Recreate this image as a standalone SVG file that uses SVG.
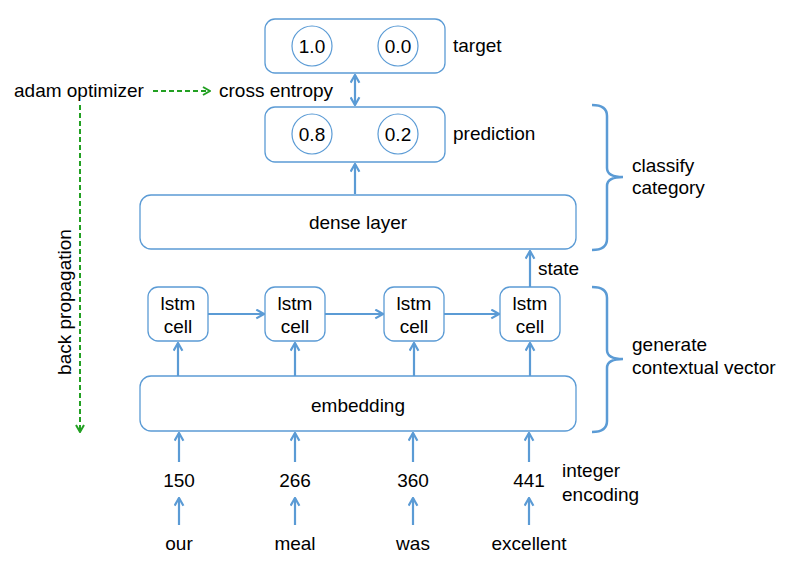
<svg xmlns="http://www.w3.org/2000/svg" width="791" height="566" viewBox="0 0 791 566">
<defs>
<marker id="ah" viewBox="0 0 10 10" refX="9" refY="5" markerWidth="11" markerHeight="11" markerUnits="userSpaceOnUse" orient="auto-start-reverse">
<polyline points="2,1 9,5 2,9" fill="none" stroke="#5B9BD5" stroke-width="2" stroke-linejoin="miter"/>
</marker>
<marker id="gh" viewBox="0 0 10 10" refX="9" refY="5" markerWidth="10" markerHeight="10" markerUnits="userSpaceOnUse" orient="auto">
<polyline points="2,1 9,5 2,9" fill="none" stroke="#22A022" stroke-width="2"/>
</marker>
<style>
.box{fill:#fff;stroke:#5B9BD5;stroke-width:1.3}
.circ{fill:#fff;stroke:#5B9BD5;stroke-width:1.2}
.t{font-family:"Liberation Sans",Arial,sans-serif;font-size:19px;fill:#000}
.m{text-anchor:middle}
.c{stroke:#5B9BD5;stroke-width:2.2;fill:none}
.g{stroke:#22A022;stroke-width:2;fill:none;stroke-dasharray:5,3}
.br{stroke:#5B9BD5;stroke-width:2.5;fill:none}
</style>
</defs>
<rect width="791" height="566" fill="#fff"/>

<g id="target">
<rect class="box" x="265" y="19" width="180" height="54" rx="10"/>
<circle class="circ" cx="312" cy="46" r="20"/>
<circle class="circ" cx="398" cy="46" r="20"/>
<text class="t m" x="312" y="53" font-size="20">1.0</text>
<text class="t m" x="398" y="53" font-size="20">0.0</text>
</g>
<text class="t" x="453" y="52">target</text>

<g id="prediction">
<rect class="box" x="265" y="107" width="180" height="55" rx="10"/>
<circle class="circ" cx="312" cy="134" r="20"/>
<circle class="circ" cx="398" cy="134" r="20"/>
<text class="t m" x="312" y="141" font-size="20">0.8</text>
<text class="t m" x="398" y="141" font-size="20">0.2</text>
</g>
<text class="t" x="453" y="140">prediction</text>

<g id="dense">
<rect class="box" x="140" y="195" width="436" height="54" rx="11"/>
<text class="t m" x="358" y="229">dense layer</text>
</g>

<g id="lstm1">
<rect class="box" x="148" y="287" width="60" height="54" rx="10"/>
<text class="t m" x="178" y="310">lstm</text>
<text class="t m" x="178" y="333">cell</text>
</g>
<g id="lstm2">
<rect class="box" x="265" y="287" width="60" height="54" rx="10"/>
<text class="t m" x="295" y="310">lstm</text>
<text class="t m" x="295" y="333">cell</text>
</g>
<g id="lstm3">
<rect class="box" x="384" y="287" width="60" height="54" rx="10"/>
<text class="t m" x="414" y="310">lstm</text>
<text class="t m" x="414" y="333">cell</text>
</g>
<g id="lstm4">
<rect class="box" x="500" y="287" width="60" height="54" rx="10"/>
<text class="t m" x="530" y="310">lstm</text>
<text class="t m" x="530" y="333">cell</text>
</g>

<g id="embedding">
<rect class="box" x="140" y="376" width="436" height="55" rx="11"/>
<text class="t m" x="358" y="412">embedding</text>
</g>

<g id="labels">
<text class="t" x="14" y="97">adam optimizer</text>
<text class="t" x="219" y="97">cross entropy</text>
<text class="t" x="538" y="275">state</text>
<text class="t" x="632" y="172">classify</text>
<text class="t" x="632" y="194">category</text>
<text class="t" x="632" y="351">generate</text>
<text class="t" x="632" y="374">contextual vector</text>
<text class="t" x="562" y="477">integer</text>
<text class="t" x="562" y="501">encoding</text>
<text class="t m" transform="translate(71,302) rotate(-90)">back propagation</text>
<text class="t m" x="179" y="487">150</text>
<text class="t m" x="295" y="487">266</text>
<text class="t m" x="413" y="487">360</text>
<text class="t m" x="529" y="487">441</text>
<text class="t m" x="179" y="550">our</text>
<text class="t m" x="295" y="550">meal</text>
<text class="t m" x="413" y="550">was</text>
<text class="t m" x="529" y="550">excellent</text>
</g>

<g id="braces">
<path class="br" d="M592,105 Q607,105 607,116 V168 Q607,177 623,177 Q607,177 607,186 V239 Q607,250 592,250"/>
<path class="br" d="M592,287 Q607,287 607,298 V350 Q607,359 623,359 Q607,359 607,368 V421 Q607,432 592,432"/>
</g>

<g id="connectors">
<line class="c" x1="355" y1="75" x2="355" y2="105" marker-start="url(#ah)" marker-end="url(#ah)"/>
<line class="c" x1="355" y1="194" x2="355" y2="164" marker-end="url(#ah)"/>
<line class="c" x1="530" y1="287" x2="530" y2="251" marker-end="url(#ah)"/>
<line class="c" x1="208" y1="314" x2="264" y2="314" marker-end="url(#ah)"/>
<line class="c" x1="325" y1="314" x2="383" y2="314" marker-end="url(#ah)"/>
<line class="c" x1="444" y1="314" x2="499" y2="314" marker-end="url(#ah)"/>
<line class="c" x1="178" y1="376" x2="178" y2="343" marker-end="url(#ah)"/>
<line class="c" x1="295" y1="376" x2="295" y2="343" marker-end="url(#ah)"/>
<line class="c" x1="414" y1="376" x2="414" y2="343" marker-end="url(#ah)"/>
<line class="c" x1="530" y1="376" x2="530" y2="343" marker-end="url(#ah)"/>
<line class="c" x1="179" y1="462" x2="179" y2="433" marker-end="url(#ah)"/>
<line class="c" x1="295" y1="462" x2="295" y2="433" marker-end="url(#ah)"/>
<line class="c" x1="413" y1="462" x2="413" y2="433" marker-end="url(#ah)"/>
<line class="c" x1="529" y1="462" x2="529" y2="433" marker-end="url(#ah)"/>
<line class="c" x1="179" y1="525" x2="179" y2="498" marker-end="url(#ah)"/>
<line class="c" x1="295" y1="525" x2="295" y2="498" marker-end="url(#ah)"/>
<line class="c" x1="413" y1="525" x2="413" y2="498" marker-end="url(#ah)"/>
<line class="c" x1="529" y1="525" x2="529" y2="498" marker-end="url(#ah)"/>
<line class="g" x1="153" y1="91" x2="210" y2="91" marker-end="url(#gh)"/>
<line class="g" x1="80" y1="105" x2="80" y2="432" marker-end="url(#gh)"/>
</g>
</svg>
